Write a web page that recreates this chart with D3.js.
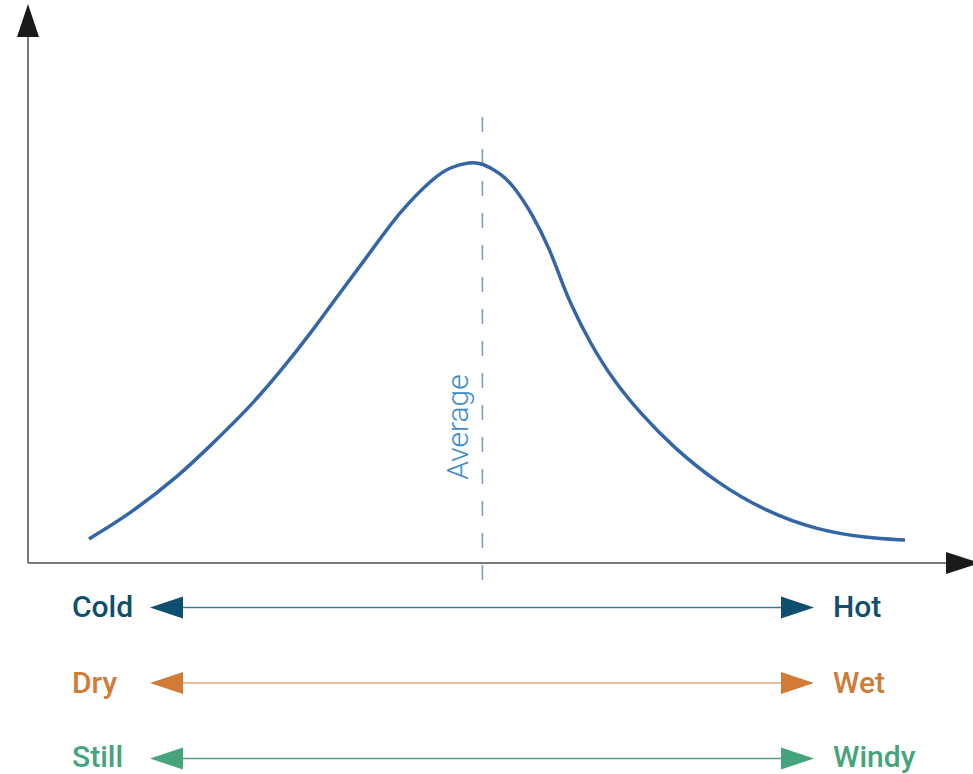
<!DOCTYPE html>
<html>
<head>
<meta charset="utf-8">
<script src="https://cdn.jsdelivr.net/npm/d3@7"></script>
<style>
  html, body { margin: 0; padding: 0; background: #fff; }
  svg { display: block; font-family: Roboto, "Noto Sans", sans-serif; }
</style>
</head>
<body>
<svg id="chart" width="973" height="774"></svg>
<script>
// ---- data ----
const curveX = [6.64, 11.11, 16.56, 20.15, 23.86, 27.45, 31.05, 33.22, 36.93, 40.52, 44.12, 45.97, 48.15, 49.46, 51.42, 52.83, 55.01, 56.86, 57.95, 59.04, 61.22, 63.73, 66.67, 70.26, 75.05, 80.50, 85.95, 91.39, 95.53];
const curveY = [4.56, 9.32, 16.73, 22.81, 29.09, 36.31, 44.30, 49.62, 58.17, 66.90, 73.19, 75.29, 76.24, 76.05, 74.14, 71.86, 66.16, 59.51, 54.37, 49.43, 41.83, 34.79, 28.52, 22.05, 15.21, 9.70, 6.27, 4.75, 4.37];
const averageX = 49.5;
const averageLabel = "Average";
const leftLabels = ["Cold", "Dry", "Still"];
const rightLabels = ["Hot", "Wet", "Windy"];
const rowColors = ["#0e4f6f", "#d17b36", "#45a47b"];
const lineColors = ["#3f7896", "#e3a57a", "#4f9e86"];

// ---- layout ----
const svg = d3.select("#chart");
const x = d3.scaleLinear().domain([0, 100]).range([28, 946]);
const y = d3.scaleLinear().domain([0, 100]).range([563, 37]);
const rowY = d3.scalePoint().domain(leftLabels).range([607.5, 758.5]);

const tri = (g, pts, fill) => g.append("path").attr("d", "M" + pts.map(p => p.join(",")).join("L") + "Z").attr("fill", fill);

// axes
svg.append("line").attr("x1", x(0)).attr("x2", x(0)).attr("y1", y(100)).attr("y2", y(0))
  .attr("stroke", "#7a7a7a").attr("stroke-width", 2);
svg.append("line").attr("x1", x(0)).attr("x2", x(100)).attr("y1", y(0)).attr("y2", y(0))
  .attr("stroke", "#7a7a7a").attr("stroke-width", 2);
tri(svg, [[x(0), y(100) - 33], [x(0) - 11, y(100)], [x(0) + 11, y(100)]], "#1a1a1a");
tri(svg, [[x(100) + 34, y(0)], [x(100), y(0) - 11], [x(100), y(0) + 11]], "#1a1a1a");

// average dashed line
svg.append("line").attr("x1", x(averageX)).attr("x2", x(averageX))
  .attr("y1", 117).attr("y2", 586)
  .attr("stroke", "#819dc6").attr("stroke-width", 1.6)
  .attr("stroke-dasharray", "15,17");

svg.append("text")
  .attr("transform", `translate(${x(averageX) - 14},427) rotate(-90)`)
  .attr("text-anchor", "middle")
  .attr("font-size", 30).attr("font-weight", 300)
  .attr("fill", "#3d8bcb")
  .text(averageLabel);

// curve
const pts = curveX.map((v, i) => [v, curveY[i]]);
svg.append("path")
  .datum(pts)
  .attr("d", d3.line().x(d => x(d[0])).y(d => y(d[1])).curve(d3.curveBasis))
  .attr("fill", "none")
  .attr("stroke", "#3465a7")
  .attr("stroke-width", 3.5)
  .attr("stroke-linecap", "butt");

// double arrows
leftLabels.forEach((lab, i) => {
  const cy = rowY(lab);
  const g = svg.append("g");
  g.append("line").attr("x1", 183).attr("x2", 781).attr("y1", cy).attr("y2", cy)
    .attr("stroke", lineColors[i]).attr("stroke-width", 1.5);
  tri(g, [[150, cy], [183, cy - 11], [183, cy + 11]], rowColors[i]);
  tri(g, [[814, cy], [781, cy - 11], [781, cy + 11]], rowColors[i]);
  const dy = i === leftLabels.length - 1 ? 8 : 9.5;
  g.append("text").attr("x", 72).attr("y", cy + dy)
    .attr("font-size", 30).attr("font-weight", 500).attr("fill", rowColors[i])
    .text(lab);
  g.append("text").attr("x", 833).attr("y", cy + dy)
    .attr("font-size", 30).attr("font-weight", 500).attr("fill", rowColors[i])
    .text(rightLabels[i]);
});
</script>
</body>
</html>
